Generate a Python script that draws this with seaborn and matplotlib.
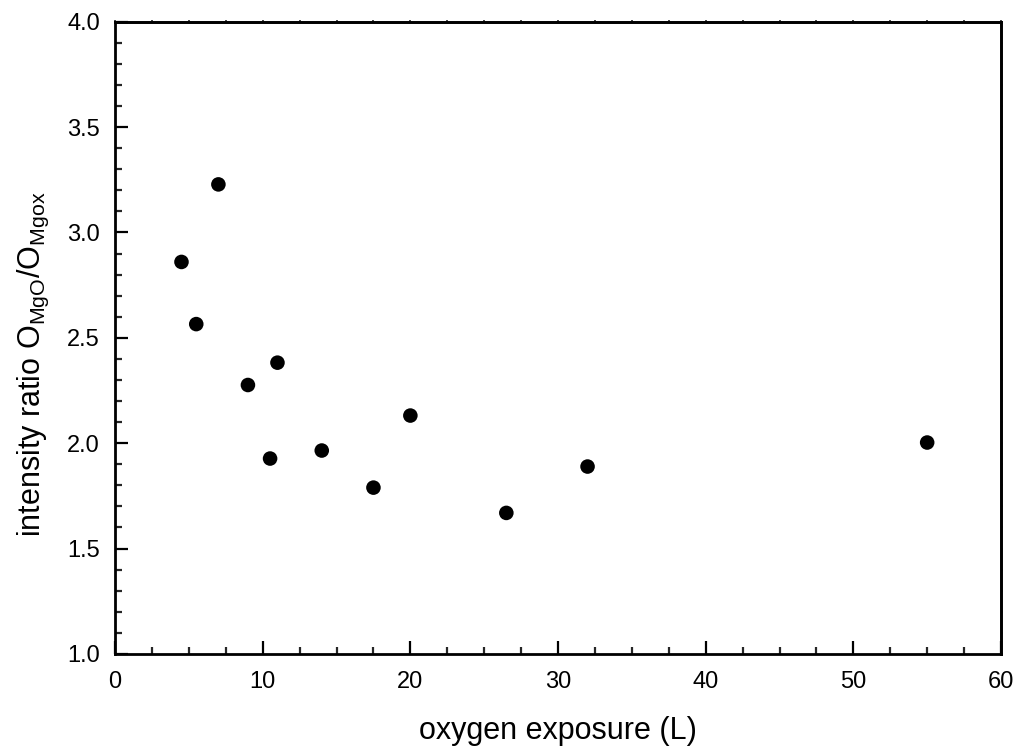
import matplotlib
matplotlib.use("Agg")
import matplotlib.pyplot as plt
import seaborn as sns
import pandas as pd
from matplotlib.ticker import MultipleLocator

# Data
exposure = [4.5, 5.5, 7.0, 9.0, 11.0, 10.5, 14.0, 17.5, 20.0, 26.5, 32.0, 55.0]
ratio = [2.86, 2.565, 3.228, 2.276, 2.382, 1.927, 1.965, 1.789, 2.131, 1.669, 1.889, 2.003]

df = pd.DataFrame({"exposure": exposure, "ratio": ratio})

sns.set_style("ticks")
plt.rcParams["font.family"] = ["Liberation Sans", "DejaVu Sans"]
plt.rcParams["mathtext.fontset"] = "custom"
plt.rcParams["mathtext.rm"] = "Liberation Sans"
plt.rcParams["mathtext.it"] = "Liberation Sans:italic"
plt.rcParams["mathtext.bf"] = "Liberation Sans:bold"
plt.rcParams["text.color"] = "black"
plt.rcParams["axes.labelcolor"] = "black"

fig = plt.figure(figsize=(10.18, 7.49), dpi=100)
ax = fig.add_axes([0.113, 0.127, 0.8703, 0.844])

sns.scatterplot(data=df, x="exposure", y="ratio", ax=ax, color="black",
                s=110, edgecolor="none", legend=False)

ax.set_xlim(0, 60)
ax.set_ylim(1.0, 4.0)
ax.xaxis.set_major_locator(MultipleLocator(10))
ax.xaxis.set_minor_locator(MultipleLocator(2.5))
ax.yaxis.set_major_locator(MultipleLocator(0.5))
ax.yaxis.set_minor_locator(MultipleLocator(0.1))
ax.yaxis.set_major_formatter(matplotlib.ticker.FormatStrFormatter("%.1f"))

for sp in ax.spines.values():
    sp.set_linewidth(2.0)
    sp.set_color("black")
    sp.set_visible(True)

ax.tick_params(axis="both", which="major", direction="in", length=9.5, width=1.6,
               labelsize=17, colors="black", labelcolor="black")
ax.tick_params(axis="both", which="minor", direction="in", length=5, width=1.6)
ax.tick_params(axis="x", which="major", pad=12.5)
ax.tick_params(axis="y", which="major", pad=10.8)

# tiny outward ticks on top/right spines
secx = ax.secondary_xaxis("top")
secx.xaxis.set_major_locator(MultipleLocator(10))
secx.xaxis.set_minor_locator(MultipleLocator(2.5))
secx.tick_params(which="both", direction="out", length=1.5, width=1.2, labeltop=False)
secx.spines["top"].set_linewidth(2.0)
secy = ax.secondary_yaxis("right")
secy.yaxis.set_major_locator(MultipleLocator(0.5))
secy.yaxis.set_minor_locator(MultipleLocator(0.1))
secy.tick_params(which="both", direction="out", length=1.5, width=1.2, labelright=False)
secy.spines["right"].set_linewidth(2.0)

ax.set_xlabel("oxygen exposure (L)", fontsize=22)
ax.set_ylabel(r"intensity ratio O$_{\mathrm{MgO}}$/O$_{\mathrm{Mgox}}$", fontsize=22)
ax.xaxis.set_label_coords(0.5, -0.098)
ax.yaxis.set_label_coords(-0.072, 0.458)

fig.savefig("out.png", dpi=100)
